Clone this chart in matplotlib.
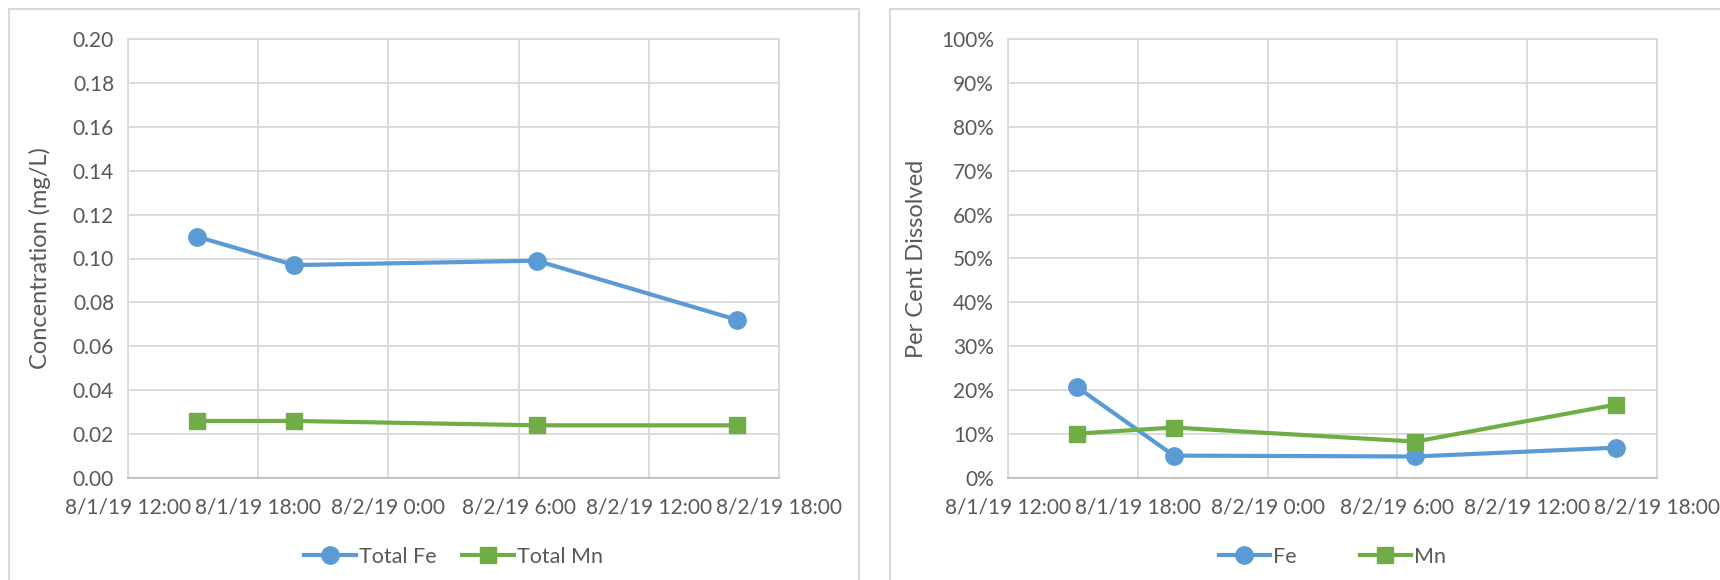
import matplotlib
matplotlib.use("Agg")
import matplotlib.pyplot as plt
import matplotlib.dates as mdates
from matplotlib.patches import Rectangle
from matplotlib.ticker import FuncFormatter, MultipleLocator
import pandas as pd

plt.rcParams['font.family'] = ['Lato', 'DejaVu Sans']

times = pd.to_datetime(['2019-08-01 15:10', '2019-08-01 19:40',
                        '2019-08-02 06:50', '2019-08-02 16:05'])
total_fe = [0.110, 0.097, 0.099, 0.072]
total_mn = [0.026, 0.026, 0.024, 0.024]
pct_fe = [0.208, 0.051, 0.049, 0.069]
pct_mn = [0.101, 0.115, 0.083, 0.167]

xmin = pd.Timestamp('2019-08-01 12:00')
xmax = pd.Timestamp('2019-08-02 18:00')

BLUE = '#5B9BD5'
GREEN = '#70AD47'
TEXT = '#595959'
GRID = '#D9D9D9'

W, H = 1720, 580
fig = plt.figure(figsize=(W / 100, H / 100), dpi=100)

# panel borders
fig.patches.append(Rectangle((9 / W, -0.05), (859 - 9) / W, 1.05 - 9 / H,
                             transform=fig.transFigure, fill=False,
                             edgecolor=GRID, lw=1.5))
fig.patches.append(Rectangle((890 / W, -0.05), 1.0, 1.05 - 9 / H,
                             transform=fig.transFigure, fill=False,
                             edgecolor=GRID, lw=1.5))

def date_fmt(x, pos):
    d = mdates.num2date(x)
    return f"{d.month}/{d.day}/{d.strftime('%y')} {d.hour}:{d.minute:02d}"

LEG_Y = (478 - 557) / (478 - 39)

def make_ax(left, right):
    ax = fig.add_axes([left / W, 1 - 478 / H, (right - left) / W, (478 - 39) / H])
    ax.set_xlim(xmin, xmax)
    ax.xaxis.set_major_locator(mdates.HourLocator(byhour=[0, 6, 12, 18]))
    ax.xaxis.set_major_formatter(FuncFormatter(date_fmt))
    ax.grid(True, color=GRID, lw=1.3)
    ax.set_axisbelow(True)
    for s in ax.spines.values():
        s.set_color(GRID)
        s.set_linewidth(1.3)
    ax.spines['bottom'].set_color('#BFBFBF')
    ax.tick_params(length=0, labelsize=15, labelcolor=TEXT)
    ax.tick_params(axis='x', pad=14)
    ax.tick_params(axis='y', pad=10)
    return ax

ax1 = make_ax(128, 779)
ax1.plot(times, total_fe, color=BLUE, lw=3, marker='o', ms=12.5, label='Total Fe')
ax1.plot(times, total_mn, color=GREEN, lw=3, marker='s', ms=12, label='Total Mn')
ax1.set_ylim(0, 0.20)
ax1.yaxis.set_major_locator(MultipleLocator(0.02))
ax1.yaxis.set_major_formatter(FuncFormatter(lambda v, p: f"{v:.2f}"))
ax1.set_ylabel('Concentration (mg/L)', fontsize=17, color=TEXT, labelpad=16)
ax1.legend(loc='center', bbox_to_anchor=(0.5, LEG_Y),
           ncol=2, frameon=False, fontsize=15.5, labelcolor=TEXT,
           handlelength=2.4, handletextpad=0.15, columnspacing=1.2)

ax2 = make_ax(1008, 1657)
ax2.plot(times, pct_fe, color=BLUE, lw=3, marker='o', ms=12.5, label='Fe')
ax2.plot(times, pct_mn, color=GREEN, lw=3, marker='s', ms=12, label='Mn')
ax2.set_ylim(0, 1.0)
ax2.yaxis.set_major_locator(MultipleLocator(0.1))
ax2.yaxis.set_major_formatter(FuncFormatter(lambda v, p: f"{v * 100:.0f}%"))
ax2.set_ylabel('Per Cent Dissolved', fontsize=17, color=TEXT, labelpad=10)
ax2.legend(loc='center', bbox_to_anchor=(0.5, LEG_Y),
           ncol=2, frameon=False, fontsize=15.5, labelcolor=TEXT,
           handlelength=2.4, handletextpad=0.15, columnspacing=2.9)

fig.savefig('out.png', dpi=100)
